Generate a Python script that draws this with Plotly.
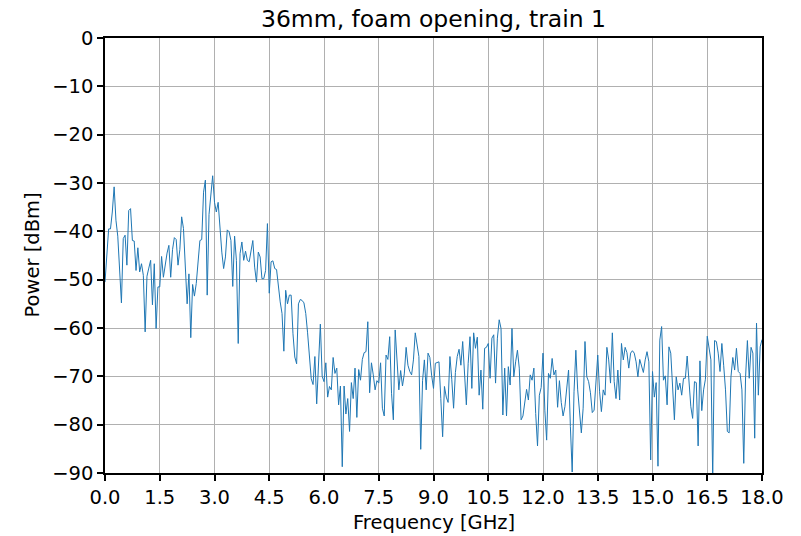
import numpy as np
import plotly.graph_objects as go

# Spectrum sampling: 0 to 18 GHz in 0.05 GHz steps
FREQ_STEP_GHZ = 0.05

# Measured power [dBm], grouped in 3 GHz blocks
power_0_3 = [
    -50.5, -44.0, -39.5, -39.5, -36.0, -30.8, -37.7, -41.0, -48.0, -54.8,
    -41.5, -40.8, -47.0, -35.7, -35.3, -41.9, -42.0, -48.1, -43.4, -48.4,
    -46.7, -49.1, -60.8, -49.3, -47.6, -46.0, -55.2, -46.7, -60.1, -51.5,
    -51.5, -45.2, -49.5, -46.8, -44.5, -42.9, -49.5, -43.8, -41.3, -41.7,
    -47.0, -43.8, -37.0, -39.4, -49.1, -55.0, -48.8, -62.0, -51.0, -53.4,
    -50.8, -45.3, -41.9, -41.7, -31.9, -29.4, -53.2, -36.5, -32.0, -28.5,
]
power_3_6 = [
    -34.0, -36.0, -34.0, -39.8, -44.3, -47.7, -45.3, -39.7, -40.1, -41.9,
    -51.4, -41.0, -46.0, -63.2, -44.6, -42.2, -46.0, -44.1, -46.0, -46.3,
    -44.3, -41.9, -47.4, -50.5, -44.3, -45.3, -49.8, -49.8, -48.1, -38.4,
    -52.8, -46.3, -46.1, -47.7, -47.9, -51.5, -54.6, -57.0, -64.8, -52.2,
    -55.0, -53.2, -53.2, -61.2, -66.0, -67.4, -55.0, -54.1, -54.3, -54.8,
    -57.0, -61.0, -65.0, -70.5, -71.7, -65.9, -75.7, -68.1, -59.2, -70.0,
]
power_6_9 = [
    -71.1, -67.2, -74.3, -72.1, -72.8, -66.1, -69.4, -68.3, -75.9, -72.0,
    -88.7, -72.0, -77.8, -74.6, -81.4, -71.3, -74.6, -68.3, -78.5, -68.6,
    -70.8, -66.5, -65.1, -64.9, -58.7, -73.4, -67.2, -69.7, -72.8, -70.9,
    -71.4, -67.2, -76.6, -78.2, -65.6, -66.5, -61.8, -73.5, -79.0, -60.4,
    -68.0, -72.8, -68.8, -72.0, -69.5, -64.0, -67.7, -69.0, -69.7, -66.6,
    -61.0, -63.2, -65.9, -85.1, -70.9, -66.6, -72.8, -65.2, -66.1, -69.9,
]
power_9_12 = [
    -72.5, -67.3, -67.2, -67.0, -74.6, -82.5, -72.1, -74.3, -75.4, -65.9,
    -70.6, -76.6, -69.2, -65.9, -64.4, -67.7, -62.8, -70.1, -75.9, -67.3,
    -61.8, -72.5, -61.0, -64.2, -61.9, -73.9, -68.7, -76.8, -64.2, -64.0,
    -63.2, -70.4, -62.1, -61.4, -71.4, -62.1, -58.3, -60.1, -78.0, -68.3,
    -78.2, -68.0, -71.8, -60.1, -70.1, -67.0, -64.6, -68.3, -79.0, -78.2,
    -75.9, -72.7, -74.9, -69.7, -70.8, -68.3, -77.7, -84.4, -73.9, -72.3,
]
power_12_15 = [
    -65.2, -77.0, -83.2, -69.4, -70.4, -66.3, -69.7, -68.7, -76.4, -70.9,
    -75.4, -78.2, -76.3, -72.8, -68.7, -80.4, -89.8, -73.2, -64.6, -72.8,
    -78.3, -81.7, -76.6, -62.8, -70.1, -71.1, -73.4, -77.5, -77.0, -72.0,
    -65.6, -73.2, -77.3, -72.8, -73.9, -64.0, -66.6, -71.4, -61.0, -71.1,
    -74.6, -68.7, -74.9, -63.2, -66.6, -64.0, -65.1, -68.3, -65.2, -64.7,
    -65.2, -67.0, -70.1, -66.5, -67.7, -69.2, -66.6, -64.9, -67.0, -87.3,
]
power_15_18 = [
    -69.0, -74.3, -71.3, -88.6, -62.5, -59.7, -70.8, -69.9, -75.9, -63.9,
    -65.2, -73.4, -79.0, -70.1, -72.8, -71.4, -73.9, -70.4, -70.4, -65.8,
    -71.1, -76.3, -78.7, -71.1, -71.3, -84.4, -66.8, -77.1, -72.8, -70.6,
    -61.7, -64.6, -66.6, -91.0, -62.6, -62.8, -65.2, -69.0, -63.2, -67.7,
    -72.8, -81.4, -81.7, -70.1, -66.1, -68.7, -64.2, -69.0, -69.4, -72.8,
    -88.0, -70.1, -62.6, -70.4, -64.0, -65.2, -82.8, -59.0, -73.9, -63.9,
    -62.4,
]

power_dbm = (power_0_3 + power_3_6 + power_6_9 + power_9_12
             + power_12_15 + power_15_18)
freq_ghz = np.arange(len(power_dbm)) * FREQ_STEP_GHZ

x_ticks = [0.0, 1.5, 3.0, 4.5, 6.0, 7.5, 9.0, 10.5, 12.0, 13.5, 15.0, 16.5, 18.0]
y_ticks = [0, -10, -20, -30, -40, -50, -60, -70, -80, -90]

FONT = "DejaVu Sans"
LABEL_SIZE = 19.5
TITLE_SIZE = 23.5

fig = go.Figure()
fig.add_trace(go.Scatter(
    x=freq_ghz, y=power_dbm, mode="lines",
    line=dict(color="#1f77b4", width=1),
    showlegend=False, hoverinfo="x+y",
))

axis_common = dict(
    showline=True, linecolor="black", linewidth=1.5, mirror=True,
    showgrid=True, gridcolor="#b0b0b0", gridwidth=1,
    ticks="outside", ticklen=6, tickwidth=1.5, tickcolor="black",
    tickfont=dict(family=FONT, size=LABEL_SIZE, color="black"),
    zeroline=False, automargin=False,
)

fig.update_xaxes(
    range=[0, 18], tickvals=x_ticks,
    ticktext=[f"{v:.1f}" for v in x_ticks],
    **axis_common,
)
fig.update_yaxes(
    range=[-90, 0], tickvals=y_ticks,
    ticktext=[f"\u2212{abs(v)}" if v < 0 else str(v) for v in y_ticks],
    **axis_common,
)

# Axis titles placed in the margins around the fixed plot area
label_font = dict(family=FONT, size=LABEL_SIZE, color="black")
fig.add_annotation(text="Frequency [GHz]", xref="paper", yref="paper",
                   x=0.5, y=0, yshift=-49, xanchor="center", yanchor="middle",
                   showarrow=False, font=label_font)
fig.add_annotation(text="Power [dBm]", xref="paper", yref="paper",
                   x=0, y=0.5, xshift=-73, xanchor="center", yanchor="middle",
                   textangle=-90, showarrow=False, font=label_font)

fig.update_layout(
    width=801, height=536,
    margin=dict(l=105, r=39, t=38, b=63),
    paper_bgcolor="white", plot_bgcolor="white",
    title=dict(text="36mm, foam opening, train 1", x=(105 + 762) / 2 / 801,
               xanchor="center", y=1 - 19 / 536, yanchor="middle",
               font=dict(family=FONT, size=TITLE_SIZE, color="black")),
)

fig.write_html("out.html")
